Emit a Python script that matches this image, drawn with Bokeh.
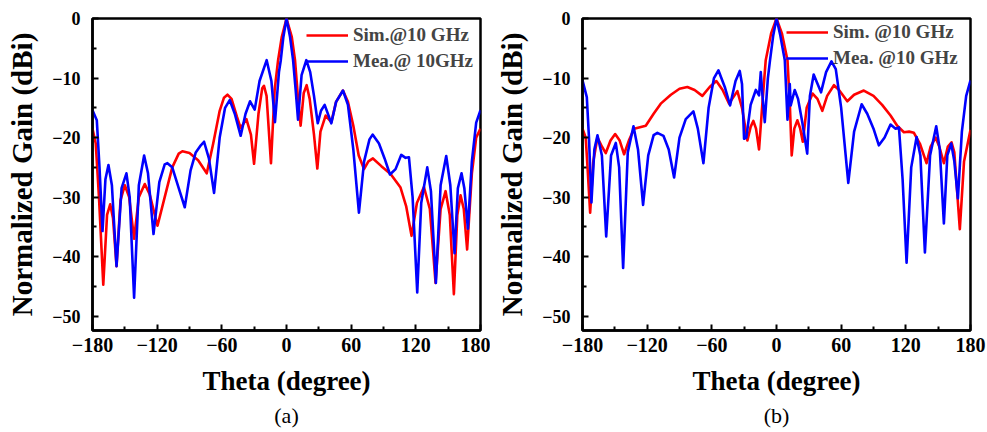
from bokeh.plotting import figure
from bokeh.layouts import row
from bokeh.models import Range1d, FixedTicker, Legend, LegendItem, Title
from bokeh.embed import file_html
from bokeh.resources import INLINE

# ---------------- data (theta in degrees, normalized gain in dB) ----------------
a_sim_theta = [-180, -177, -174, -170, -166.5, -163.6, -161, -157.7, -154, -150, -146, -141.4, -137, -131.5,
               -127, -119.7, -113, -106, -100, -96.6, -90, -82, -74, -68, -62, -58, -54.8, -51, -46, -42.5,
               -37.2, -33, -30.1, -26, -22.5, -20.9, -18.5, -14.4, -11, -7.8, -4.4, 0, 4.9, 7.9, 10.5, 13.1,
               16, 18.7, 21.5, 25.5, 28.6, 31.5, 36.3, 41.6, 46, 52.4, 57, 62, 67, 71.9, 76, 80.2, 88, 96.6,
               105.8, 111, 116, 121, 127.5, 133, 138.3, 143, 147.6, 151.5, 155.3, 158.5, 161.5, 164.5,
               167.6, 172, 176, 180]
a_sim_gain = [-18.5, -21, -30, -44.7, -33, -31.2, -33.5, -41.6, -30.5, -28, -30, -37, -30, -27.8,
              -29.5, -34.8, -30, -25, -22.7, -22.3, -22.6, -23.8, -26, -21, -15.5, -13.3, -12.8, -13.5, -16.5, -18.4,
              -16.9, -19.5, -24.4, -16, -11.7, -11.3, -13, -24.3, -12, -7, -3.1, 0, -3.1, -7, -13, -18,
              -12.5, -11.2, -13.5, -19.5, -25.2, -19, -16.3, -17.4, -14, -12.1, -14, -18, -23, -25.3, -24, -23.5, -24.8, -26.1,
              -28.4, -31.5, -36.5, -31, -28.3, -32, -44.4, -32, -29, -33, -46.3, -33, -29.7, -32,
              -38.8, -26, -20, -18.5]

a_mea_theta = [-180, -176, -173.5, -170.7, -168, -165.2, -162, -157.7, -153, -148.5, -145.5, -141.4, -137, -132.1,
               -128.5, -123.4, -118, -113, -110.5, -106, -100, -94.4, -89, -84.2, -79.5, -76.5, -72, -67.2, -62,
               -57, -52.7, -48, -42.5, -38, -33.8, -29.5, -25, -18.4, -14, -10.7, -7, -5.3, -2.9, 0, 3.3, 6.1,
               8.5, 10.7, 14, 18.4, 22, 25.5, 29, 32, 35.4, 41.6, 46, 52.4, 57, 62, 67.2, 72, 77, 79.9, 85.8,
               91, 96, 101.2, 106.5, 110.5, 113.6, 117, 121.3, 125, 130.6, 134, 138.6, 143, 148.2, 152, 155.9,
               159, 162.4, 165, 168.3, 172, 176, 180]
a_mea_gain = [-15.4, -17.1, -25, -35.7, -27, -24.6, -28, -41.6, -28.5, -26, -30, -46.9, -28, -23,
              -26, -36.2, -27.5, -24.5, -24.3, -25, -28.5, -31.7, -25.5, -22.5, -21.3, -20.7, -23.5, -29.3, -20,
              -15, -13.7, -16, -19.7, -16, -13.9, -15.3, -10.5, -7, -10.5, -17.4, -9, -7, -3.1, 0, -3.1, -7,
              -12, -17, -9.5, -7, -9, -13, -17.6, -15.5, -14.5, -17.6, -14, -12.1, -14.5, -22, -32.6, -24, -20.3, -19.5, -21,
              -23.5, -26.2, -25.3, -22.9, -23.4, -23.3, -30, -46, -31, -25, -29, -44.4, -28, -23.1, -28, -39.4,
              -28.5, -26, -28.5, -35.3, -24, -17.5, -15.4]

b_sim_theta = [-180, -177, -175, -172.9, -170, -166.1, -162, -158.4, -154, -149.7, -145.5, -141.4, -137, -132.1,
               -121.3, -114, -107.4, -98, -90, -82.7, -76, -68.8, -62, -55.8, -50, -44, -40, -36.3, -32, -27,
               -24, -21.5, -19, -16.2, -13, -10, -5, 0, 5, 10.2, 12.5, 14.1, 16.5, 19.4, 22, 24.4, 28, 33.5,
               38, 42.5, 47, 53.3, 58, 65.7, 72, 81, 90, 98, 105.8, 112, 118.2, 123, 127.5, 133, 139.2, 143,
               147.6, 151, 155.3, 159, 162.4, 165, 170.1, 174, 180]
b_sim_gain = [-18.5, -20, -26, -32.6, -24, -20, -21.5, -22.6, -20.5, -19.4, -20.5, -22.8, -20.5, -18.5,
              -18, -16, -14.3, -12.8, -11.8, -11.5, -12, -13, -11.5, -10.5, -12, -14.3, -13.2, -12.2, -15, -20.5,
              -18.2, -17.2, -18.5, -22, -14, -7, -2.5, 0, -2.5, -7, -15, -23, -18.5, -17.1, -18.5, -20.7, -15, -12.6,
              -13.5, -15.5, -13, -11.2, -12, -13.9, -12.8, -12.1, -13, -14.5, -16.3, -18, -19.1, -19, -19.2, -21, -24.3, -21.5,
              -20, -21.5, -24.3, -21.5, -20.8, -22.5, -35.4, -24, -18.7]

b_mea_theta = [-180, -176, -174, -171.7, -169, -166.1, -162, -158, -153.5, -149.1, -146, -142.3, -138, -132.7,
               -128.5, -123.8, -119, -114, -110.5, -104.9, -100, -95, -90, -84.2, -77.1, -73, -67.8, -63, -58,
               -53.9, -48, -43.1, -38, -34.1, -32, -30.1, -28, -24, -19.2, -16.2, -14.6, -13, -10.9, -8, -6, -3,
               0, 3.5, 7.7, 10.2, 12.3, 13.2, 16.9, 20, 24, 28.5, 31, 34.5, 41.3, 46, 51, 55, 60, 66.6, 72, 79,
               84.2, 90, 95, 100.3, 105.8, 110.5, 113.6, 117, 120.7, 125, 130, 133.5, 137.7, 142.5, 148.2, 151.5,
               155.3, 158.5, 162.1, 165, 168.3, 172, 176, 180]
b_mea_gain = [-10.4, -13.2, -20, -30.9, -22, -19.6, -23, -36.6, -23, -20.9, -25, -41.9, -22.5, -18.1,
              -22, -31.3, -23, -19.6, -19.2, -19.7, -22, -26.7, -20, -16.9, -15.6, -18.5, -24.3, -15, -10,
              -8.7, -11.5, -14.6, -10.5, -8.8, -11, -20.2, -20, -14.5, -12, -12.9, -9, -13, -17.4, -10, -7, -2.8,
              0, -2.8, -7, -17, -11, -14.6, -12, -13.5, -17.5, -22.7, -13, -9.4, -12.4, -9, -7.2, -8.5, -15, -27.6, -19, -14.4,
              -16, -18.5, -21.3, -20, -17.8, -18.5, -18.3, -27, -41, -25, -19.9, -23, -39.3, -23, -18.1, -22,
              -34.4, -23, -21, -24, -30.2, -19, -13, -10.4]

x_ticks = [-180, -120, -60, 0, 60, 120, 180]
x_minor = [-150, -90, -30, 30, 90, 150]
y_ticks = [-50, -40, -30, -20, -10, 0]
y_minor = [-45, -35, -25, -15, -5]

FONT = "Liberation Serif"


def make_panel(sim_t, sim_g, mea_t, mea_g, sim_label, mea_label, tag, border_right, legend_loc):
    p = figure(frame_width=388, frame_height=312, output_backend="svg", toolbar_location=None,
               x_range=Range1d(-180, 180), y_range=Range1d(-52.4, 0),
               min_border_left=92, min_border_right=border_right,
               min_border_top=18, min_border_bottom=102)
    p.grid.visible = False
    p.outline_line_color = "black"
    p.outline_line_width = 2.5
    p.background_fill_color = "white"
    p.border_fill_color = "white"

    r1 = p.line(sim_t, sim_g, line_color="#ff0000", line_width=2.6, line_join="round")
    r2 = p.line(mea_t, mea_g, line_color="#0000ff", line_width=2.6, line_join="round")

    for ax, ticks, minor in ((p.xaxis[0], x_ticks, x_minor), (p.yaxis[0], y_ticks, y_minor)):
        ax.ticker = FixedTicker(ticks=ticks, minor_ticks=minor)
        ax.axis_line_width = 2.5
        ax.major_tick_in = 6
        ax.major_tick_out = 0
        ax.minor_tick_in = 4
        ax.minor_tick_out = 0
        ax.major_tick_line_width = 2
        ax.minor_tick_line_width = 2
        ax.major_label_text_font = FONT
        ax.major_label_text_font_style = "bold"
        ax.major_label_text_color = "black"
        ax.axis_label_text_font = FONT
        ax.axis_label_text_font_style = "bold"
        ax.axis_label_text_color = "black"
    p.xaxis.major_label_text_font_size = "20px"
    p.yaxis.major_label_text_font_size = "18px"
    p.xaxis.axis_label = "Theta (degree)"
    p.xaxis.axis_label_text_font_size = "27px"
    p.xaxis.major_label_standoff = 7
    p.xaxis.axis_label_standoff = 11
    p.yaxis.axis_label = "Normalized Gain (dBi)"
    p.yaxis.axis_label_text_font_size = "29px"
    p.yaxis.major_label_standoff = 12
    p.yaxis.axis_label_standoff = 11

    legend = Legend(items=[LegendItem(label=sim_label, renderers=[r1]),
                           LegendItem(label=mea_label, renderers=[r2])],
                    location=legend_loc, border_line_alpha=0, background_fill_alpha=0,
                    glyph_width=42, glyph_height=20, label_standoff=5, spacing=4,
                    padding=0, margin=0, label_text_font=FONT, label_text_font_style="bold",
                    label_text_font_size="19px", label_height=20)
    p.add_layout(legend)

    t = Title(text=tag, align="center", text_font=FONT, text_font_style="normal",
              text_font_size="22px", text_color="black", standoff=5)
    p.add_layout(t, "below")
    return p


pa = make_panel(a_sim_theta, a_sim_gain, a_mea_theta, a_mea_gain,
                "Sim.@10 GHz", "Mea.@ 10GHz", "(a)", 10, (214, 258))
pb = make_panel(b_sim_theta, b_sim_gain, b_mea_theta, b_mea_gain,
                "Sim. @10 GHz", "Mea. @10 GHz", "(b)", 17, (204, 261))

layout = row(pa, pb, spacing=0)
open("out.html", "w").write(file_html(layout, INLINE))
